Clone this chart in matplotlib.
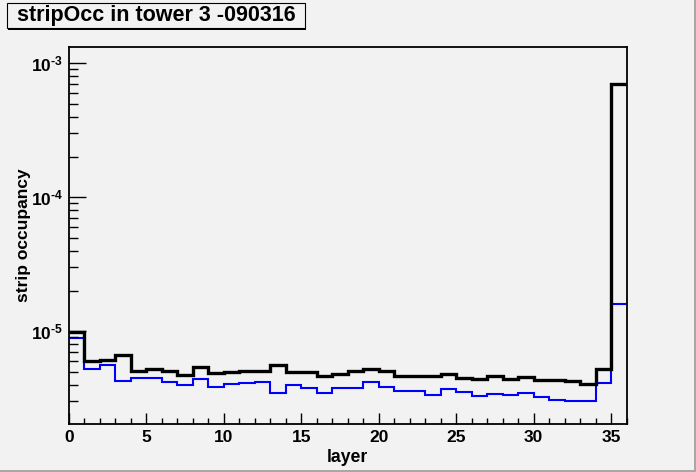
import numpy as np
import matplotlib
matplotlib.use("Agg")
import matplotlib.pyplot as plt
from matplotlib.ticker import LogLocator, NullFormatter, MultipleLocator, FixedLocator, FixedFormatter
from matplotlib.patches import Rectangle

plt.rcParams['font.family'] = ['Liberation Sans', 'DejaVu Sans']
plt.rcParams['mathtext.fontset'] = 'custom'
plt.rcParams['mathtext.rm'] = 'Liberation Sans:bold'
plt.rcParams['mathtext.bf'] = 'Liberation Sans:bold'
plt.rcParams['mathtext.it'] = 'Liberation Sans:bold'
plt.rcParams['mathtext.sf'] = 'Liberation Sans:bold'

# ---- data ----
title = "stripOcc in tower 3 -090316"
x_label = "layer"
y_label = "strip occupancy"
bin_edges = np.arange(0, 37)
black_vals = [9.9e-6, 6.04e-6, 6.15e-6, 6.62e-6, 5.06e-6, 5.18e-6, 5.03e-6, 4.69e-6,
              5.44e-6, 4.86e-6, 4.97e-6, 5.03e-6, 5.03e-6, 5.64e-6, 4.97e-6, 4.97e-6,
              4.65e-6, 4.78e-6, 5.06e-6, 5.26e-6, 5.06e-6, 4.62e-6, 4.67e-6, 4.67e-6,
              4.83e-6, 4.51e-6, 4.43e-6, 4.67e-6, 4.43e-6, 4.59e-6, 4.36e-6, 4.36e-6,
              4.24e-6, 4.07e-6, 5.18e-6, 6.95e-4]
blue_vals = [8.97e-6, 5.24e-6, 5.55e-6, 4.28e-6, 4.49e-6, 4.49e-6, 4.21e-6, 3.95e-6,
             4.41e-6, 3.84e-6, 4.05e-6, 4.11e-6, 4.21e-6, 3.44e-6, 3.95e-6, 3.77e-6,
             3.44e-6, 3.74e-6, 3.80e-6, 4.18e-6, 3.82e-6, 3.60e-6, 3.60e-6, 3.33e-6,
             3.71e-6, 3.52e-6, 3.27e-6, 3.39e-6, 3.33e-6, 3.44e-6, 3.22e-6, 3.09e-6,
             3.02e-6, 3.02e-6, 4.09e-6, 1.60e-5]
x_ticks = [0, 5, 10, 15, 20, 25, 30, 35]
y_ticks = [1e-5, 1e-4, 1e-3]
y_tick_labels = [r'$10^{\text{-5}}$', r'$10^{\text{-4}}$', r'$10^{\text{-3}}$']

bg = '#f2f2f2'
W, H = 696, 472
fig = plt.figure(figsize=(W / 100, H / 100), dpi=100, facecolor=bg)
ax = fig.add_axes([69 / W, 1 - 424 / H, (626.5 - 69) / W, (424 - 46.7) / H])
ax.set_facecolor(bg)

ax.stairs(blue_vals, bin_edges, baseline=None, color='#0000ff', linewidth=1.5)
ax.stairs(black_vals, bin_edges, baseline=None, color='black', linewidth=2.4)

ax.set_yscale('log')
ax.set_xlim(0, 36)
ax.set_ylim(2.03e-6, 1.33e-3)

ax.xaxis.set_major_locator(FixedLocator(x_ticks))
ax.xaxis.set_minor_locator(MultipleLocator(1))
ax.yaxis.set_major_locator(FixedLocator(y_ticks))
ax.yaxis.set_major_formatter(FixedFormatter(y_tick_labels))
ax.yaxis.set_minor_locator(LogLocator(base=10, subs=np.arange(2, 10)))
ax.yaxis.set_minor_formatter(NullFormatter())

ax.tick_params(axis='x', which='major', direction='in', length=8, width=1, pad=4.5,
               labelsize=12.5, top=False)
ax.tick_params(axis='x', which='minor', direction='in', length=4.3, width=1, top=False)
ax.tick_params(axis='y', which='major', direction='in', length=12.2, width=1, pad=4.5,
               labelsize=12.5, right=False)
ax.tick_params(axis='y', which='minor', direction='in', length=6.3, width=1, right=False)
for lbl in ax.get_xticklabels():
    lbl.set_fontweight('bold')

for s in ax.spines.values():
    s.set_linewidth(1.3)

ax.set_xlabel(x_label, fontsize=12.7, fontweight='bold')
ax.set_ylabel(y_label, fontsize=12.5, fontweight='bold')
ax.xaxis.set_label_coords(0.5, -25 / 377.3)
ax.xaxis.label.set_va('top')
ax.yaxis.set_label_coords(-38 / 557.5, 0.5)

# title box with shadow (ROOT style)
fig.add_artist(Rectangle((8 / W, 1 - 29.5 / H), 298 / W, 25 / H, transform=fig.transFigure,
                         facecolor='black', edgecolor='none'))
fig.add_artist(Rectangle((6.5 / W, 1 - 27.5 / H), 298 / W, 25 / H, transform=fig.transFigure,
                         facecolor=bg, edgecolor='black', linewidth=0.8))
fig.text(156 / W, 1 - 15 / H, title, ha='center', va='center', fontsize=15.5,
         fontweight='bold')

# canvas bevel
fig.add_artist(Rectangle((694 / W, 0), 2 / W, 1, transform=fig.transFigure,
                         facecolor='#a8a8a8', edgecolor='none'))
fig.add_artist(Rectangle((0, 0), 1, 2 / H, transform=fig.transFigure,
                         facecolor='#a8a8a8', edgecolor='none'))

fig.savefig('out.png', dpi=100, facecolor=bg)
